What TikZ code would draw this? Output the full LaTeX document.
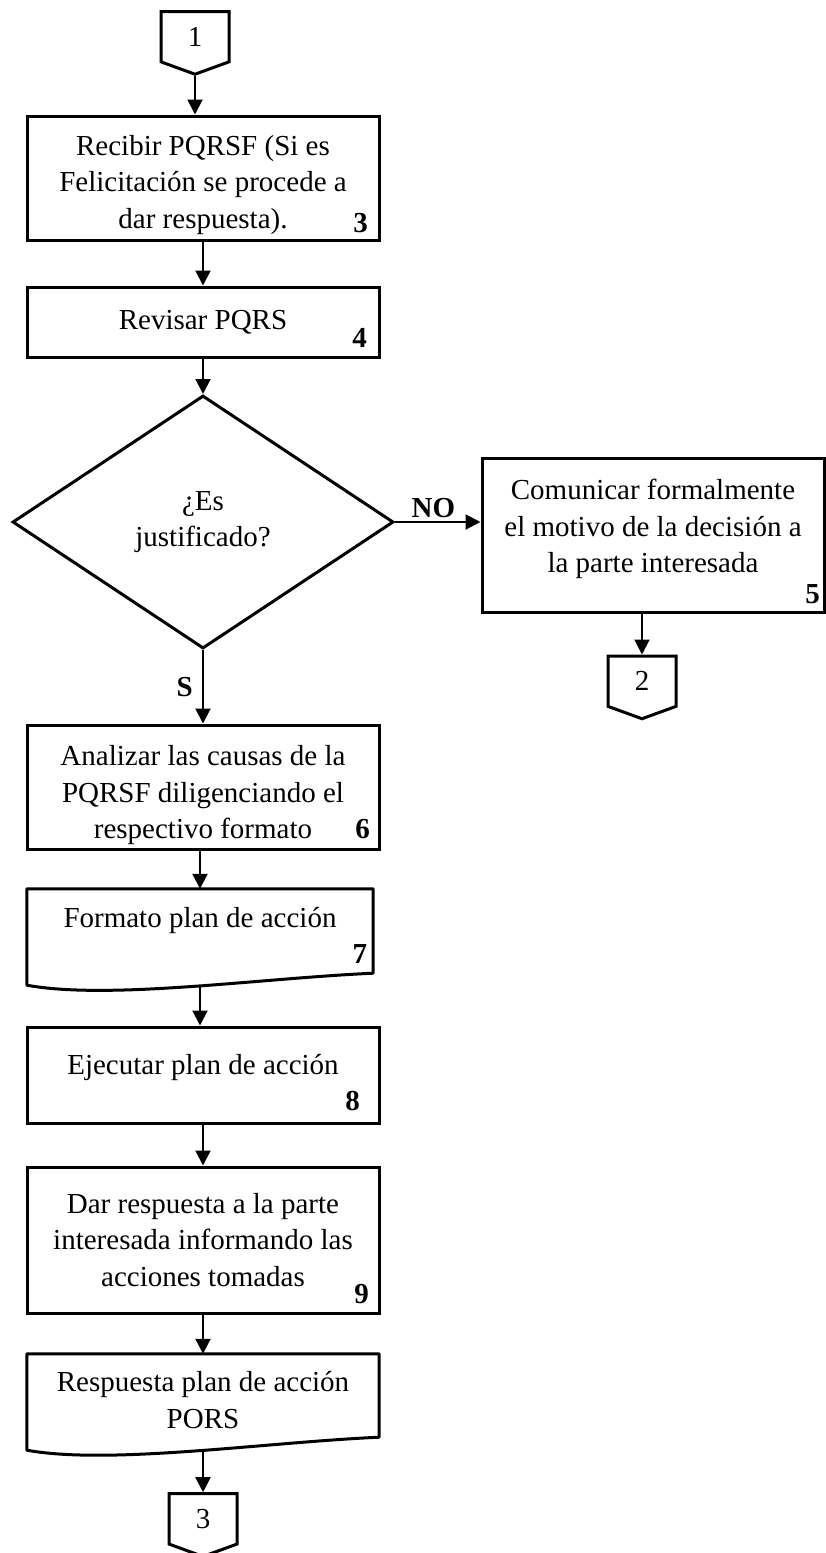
\documentclass[tikz,border=0pt]{standalone}
\usepackage{fontspec}
\setmainfont{Liberation Serif}
\usetikzlibrary{positioning,shapes.geometric,shapes.symbols,arrows.meta,calc}

\begin{document}
\begin{tikzpicture}[x=1pt,y=1pt,node distance=3cm,on grid,
		font=\fontsize{29}{36.5}\selectfont,
		box/.style={rectangle, draw, line width=3pt, minimum width=352pt, align=center, inner sep=2pt},
		docbox/.style={rectangle, draw=none, minimum width=352pt, align=center, inner sep=2pt},
		decision/.style={diamond, draw, line width=3pt, minimum width=381pt, minimum height=253pt, align=center, inner sep=0pt},
		conn/.style={signal, signal to=south, signal from=nowhere, signal pointer angle=140, draw, line width=3pt, minimum width=68pt, minimum height=53pt, inner sep=0pt},
		num/.style={font=\fontsize{29}{36.5}\selectfont\bfseries, inner sep=0pt},
		lbl/.style={font=\fontsize{29}{36.5}\selectfont\bfseries},
		flow/.style={line width=2pt, -{Triangle[length=15pt,width=15pt]}},
		outline/.style={line width=3pt, line join=round}]

		\useasboundingbox (0,0) rectangle (825,-1553);

		% Connector 1
		\node[conn, anchor=north] (con1) at (195,-10) {1};

		% Step 3
		\node[box, minimum height=124pt, text height=107pt] (step3) at (203,-178) {Recibir PQRSF (Si es\\Felicitación se procede a\\dar respuesta).};
		\node[num, above left=9.5pt and 12.5pt of step3.south east, anchor=base east] (num3) {3};

		% Step 4
		\node[box, minimum height=70pt, below=144pt of step3] (step4) {Revisar PQRS};
		\node[num, above left=11.5pt and 13.5pt of step4.south east, anchor=base east] (num4) {4};

		% Decision
		\node[decision, below=200pt of step4] (dec) {¿Es\\justificado?};

		% Step 5
		\node[box, minimum width=342pt, minimum height=154pt, text depth=18pt,
			below right=13pt and 450pt of dec] (step5) {Comunicar formalmente\\el motivo de la decisión a\\la parte interesada};
		\node[num, above left=10.5pt and 5.5pt of step5.south east, anchor=base east] (num5) {5};

		% Connector 2
		\node[conn, anchor=north] (con2) at ($(step5.south)+(-11,-41)$) {2};

		% Step 6
		\node[box, minimum height=124pt, text height=110pt, below=265pt of dec] (step6) {Analizar las causas de la\\PQRSF diligenciando el\\respectivo formato};
		\node[num, above left=12.5pt and 10.5pt of step6.south east, anchor=base east] (num6) {6};

		% Step 7 (document)
		\node[docbox, minimum width=346pt, minimum height=63pt,
			below=133.5pt of step6, xshift=-3pt] (step7) {Formato plan de acción};
		\draw[outline] (step7.north west) -- (step7.north east) -- ($(step7.south east)+(0,-21)$)
			.. controls ($(step7.south east)+(-113,-26)$) and ($(step7.south west)+(83,-48)$) .. ($(step7.south west)+(0,-33)$) -- cycle;
		\coordinate (bot7) at ($(step7.south)+(0,-35)$);
		\node[num, below left=11pt and 6pt of step7.south east, anchor=base east] (num7) {7};

		% Step 8
		\node[box, minimum height=96pt, text depth=22pt, below=154.5pt of step7, xshift=3pt] (step8) {Ejecutar plan de acción};
		\node[num, above left=14.5pt and 20.5pt of step8.south east, anchor=base east] (num8) {8};

		% Step 9
		\node[box, minimum height=146pt, below=165pt of step8] (step9) {Dar respuesta a la parte\\interesada informando las\\acciones tomadas};
		\node[num, above left=11.5pt and 11.5pt of step9.south east, anchor=base east] (num9) {9};

		% Step 10 (document)
		\node[docbox, minimum height=92pt, below=160pt of step9] (step10) {Respuesta plan de acción\\PORS};
		\draw[outline] (step10.north west) -- (step10.north east) -- ($(step10.south east)+(0,9)$)
			.. controls ($(step10.south east)+(-113,4)$) and ($(step10.south west)+(83,-19)$) .. ($(step10.south west)+(0,-4)$) -- cycle;
		\coordinate (bot10) at ($(step10.south)+(0,-6)$);

		% Connector 3
		\node[conn, anchor=north] (con3) at ($(step10.south)+(0,-46)$) {3};

		\draw[flow] (con1.south) -- (con1.south |- step3.north);
		\draw[flow] (step3) -- (step4);
		\draw[flow] (step4) -- (dec);
		\draw[flow] (dec.east) -- node[lbl, above, pos=.45] {NO} (dec.east -| step5.west);
		\draw[flow] (step5.south -| con2.north) -- (con2.north);
		\draw[flow] (dec) -- node[lbl, left=6pt] {S} (step6);
		\draw[flow] (step7.north |- step6.south) -- (step7.north);
		\draw[flow] (bot7) -- (bot7 |- step8.north);
		\draw[flow] (step8) -- (step9);
		\draw[flow] (step9) -- (step10);
		\draw[flow] (bot10) -- (con3.north);
	\end{tikzpicture}
\end{document}
